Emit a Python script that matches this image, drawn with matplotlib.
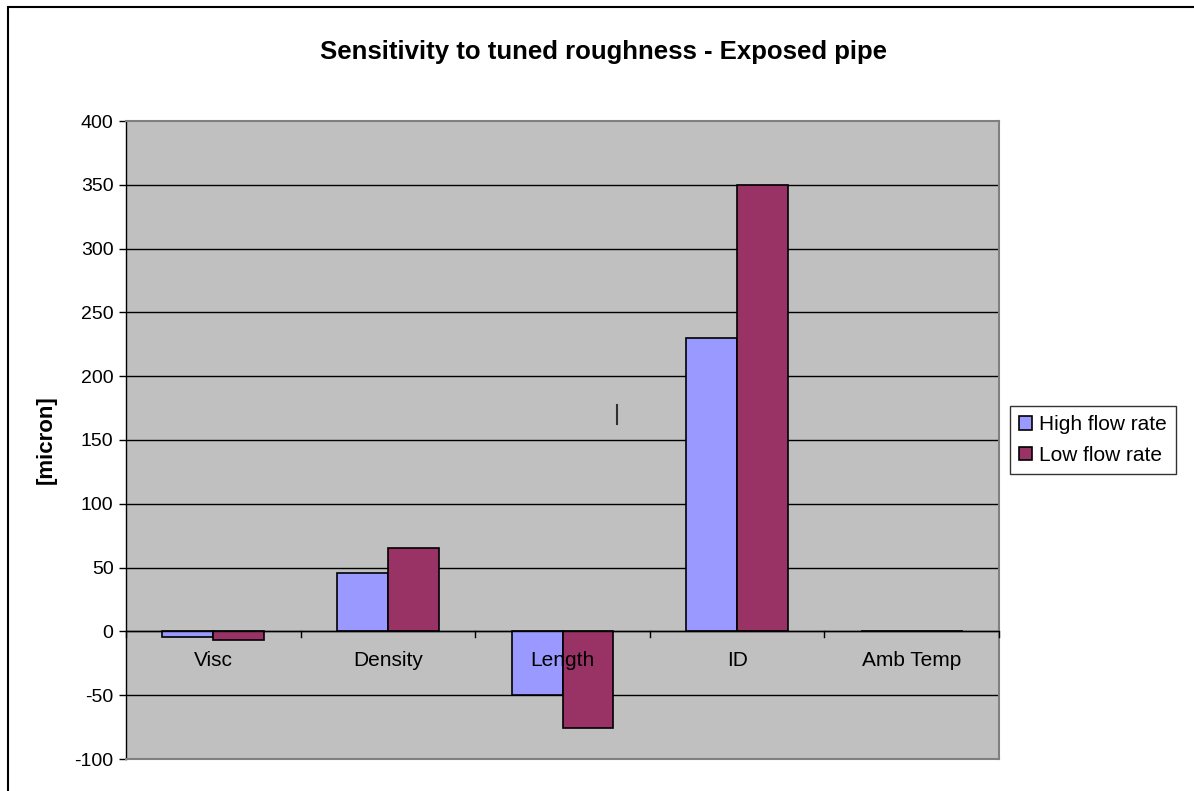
import matplotlib.pyplot as plt
import numpy as np
from matplotlib.patches import Rectangle
from matplotlib.lines import Line2D

plt.rcParams['font.family'] = ['Liberation Sans', 'DejaVu Sans']
plt.rcParams['axes.unicode_minus'] = False

categories = ['Visc', 'Density', 'Length', 'ID', 'Amb Temp']
high_flow = [-4, 46, -50, 230, 0]
low_flow = [-7, 65, -76, 350, 0]
yticks = [-100, -50, 0, 50, 100, 150, 200, 250, 300, 350, 400]

fig = plt.figure(figsize=(11.94, 7.91), dpi=100)
ax = fig.add_axes([126 / 1194, 1 - 759 / 791, 873 / 1194, 638 / 791])
ax.set_facecolor('#C0C0C0')

x = np.arange(len(categories))
w = 0.292
ax.bar(x - w / 2, high_flow, w, color='#9999FF', edgecolor='black', linewidth=1.2,
       label='High flow rate', zorder=3)
ax.bar(x + w / 2, low_flow, w, color='#993366', edgecolor='black', linewidth=1.2,
       label='Low flow rate', zorder=3)

ax.set_xlim(-0.5, len(categories) - 0.5)
ax.set_ylim(-100, 400)
ax.set_yticks(yticks)
ax.tick_params(axis='y', labelsize=14, length=5, width=1, direction='out', pad=4)
ax.set_xticks([])
ax.grid(False)
for v in yticks[1:-1]:
    ax.axhline(v, color='black', linewidth=1, zorder=1)

# zero axis with category ticks and labels
ax.axhline(0, color='black', linewidth=1, zorder=4)
for b in np.arange(-0.5, len(categories) - 0.4, 1.0):
    ax.plot([b, b], [0, -4], color='black', linewidth=1, zorder=4, clip_on=False)
for xi, name in zip(x, categories):
    ax.text(xi, -23, name, ha='center', va='center', fontsize=15, zorder=5)

for s in ['top', 'right', 'bottom']:
    ax.spines[s].set_color('#808080')
    ax.spines[s].set_linewidth(1.5)
ax.spines['left'].set_color('black')
ax.spines['left'].set_linewidth(1)

ax.set_ylabel('[micron]', fontsize=16, fontweight='bold')
ax.yaxis.set_label_coords((57 - 126) / 873, 0.5)
fig.text(604 / 1194, 1 - 52 / 791, 'Sensitivity to tuned roughness - Exposed pipe',
         ha='center', va='center', fontsize=18.5, fontweight='bold')

leg = ax.legend(loc='center left', bbox_to_anchor=(1010 / 1194, 1 - 440 / 791),
                bbox_transform=fig.transFigure, frameon=True, fancybox=False,
                fontsize=15, handlelength=0.6, handleheight=0.6, handletextpad=0.35,
                borderpad=0.45, labelspacing=0.55, borderaxespad=0)
leg.get_frame().set_edgecolor('black')
leg.get_frame().set_linewidth(1)
for h in leg.legend_handles:
    h.set_linewidth(1.2)

# small stray cursor mark inside the plot
ax.add_line(Line2D([0.5625, 0.5625], [0.525, 0.555], transform=ax.transAxes,
                   color='#303030', linewidth=1.5, zorder=5))

# outer chart frame
fig.add_artist(Rectangle((8 / 1194, -0.1), 1.2, 1 - 7 / 791 + 0.1,
                         transform=fig.transFigure, fill=False,
                         edgecolor='black', linewidth=1.5))

fig.savefig('out.png', dpi=100)
